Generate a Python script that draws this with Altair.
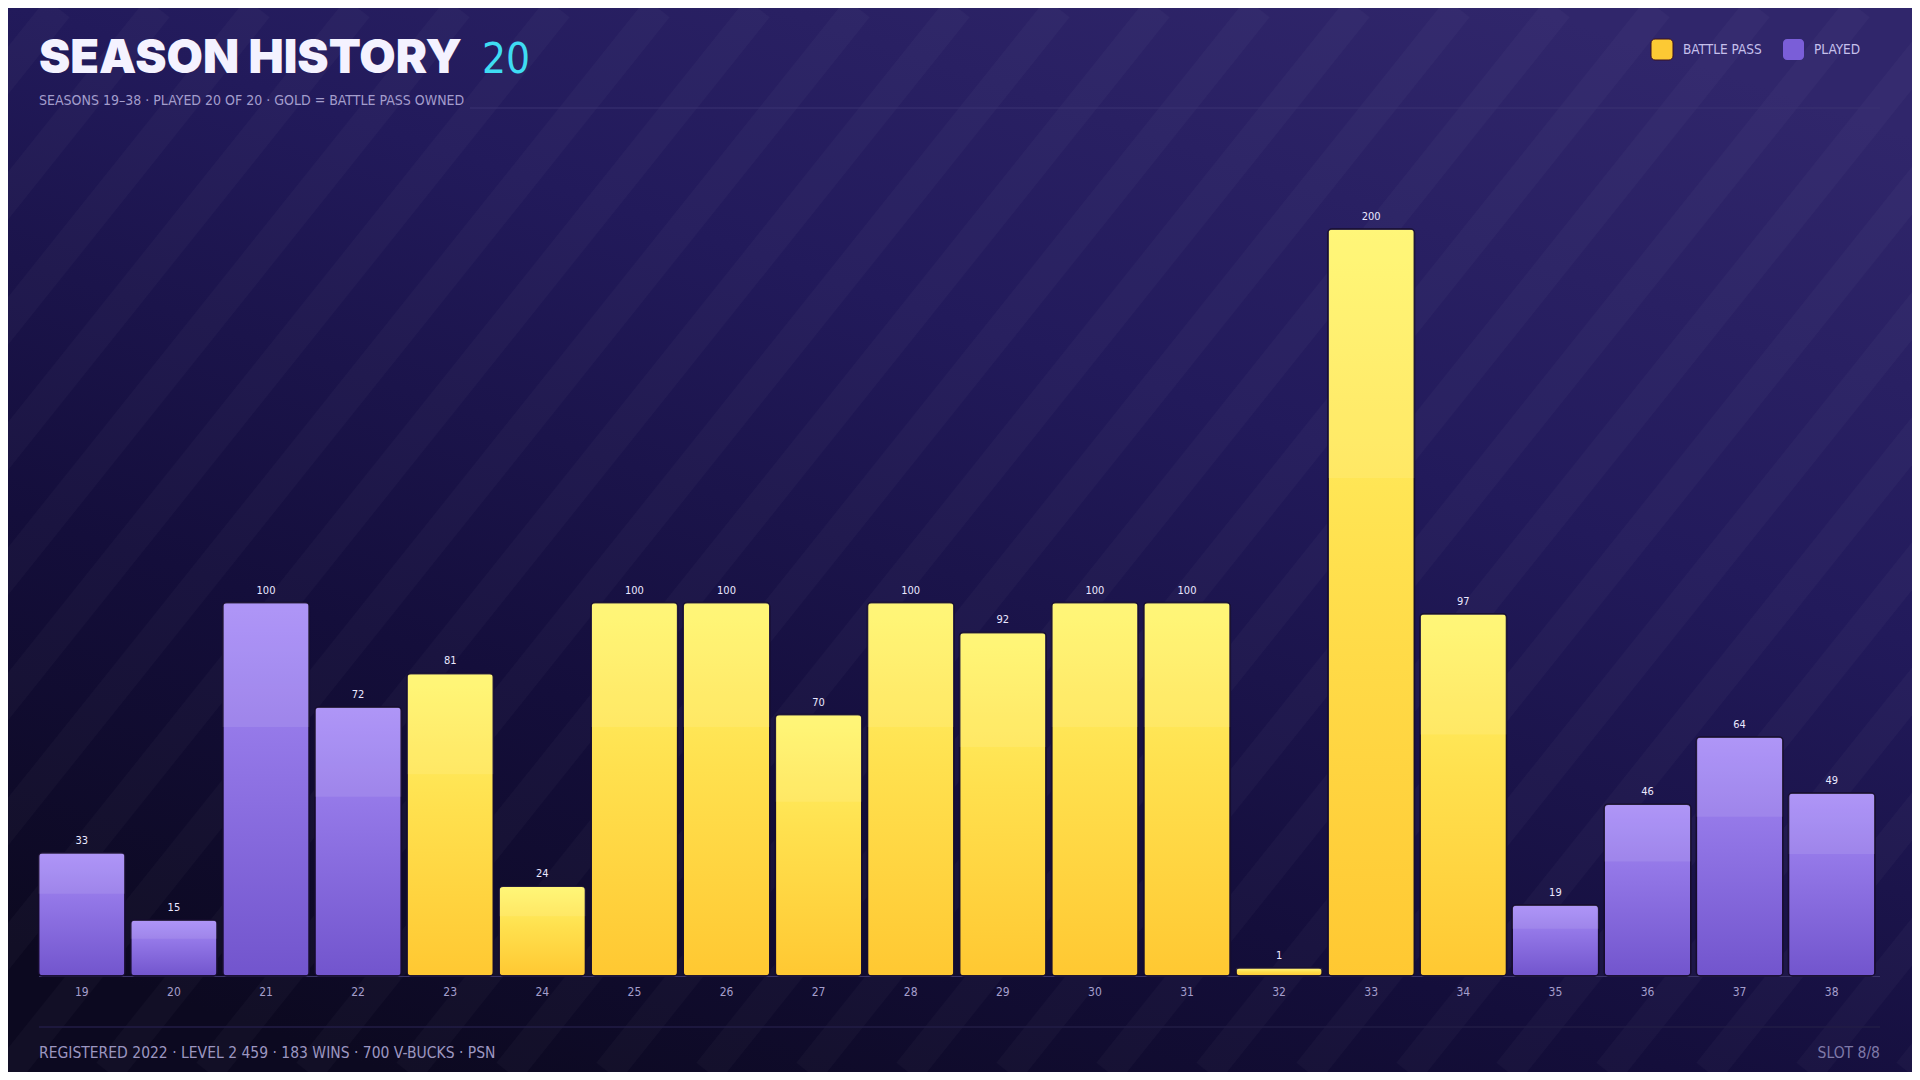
import altair as alt
import pandas as pd

# ---------------- data ----------------
seasons = ["19", "20", "21", "22", "23", "24", "25", "26", "27", "28",
           "29", "30", "31", "32", "33", "34", "35", "36", "37", "38"]
levels = [33, 15, 100, 72, 81, 24, 100, 100, 70, 100,
          92, 100, 100, 1, 200, 97, 19, 46, 64, 49]
battle_pass = [False, False, False, False, True, True, True, True, True, True,
               True, True, True, True, True, True, False, False, False, False]

title_text = "SEASON HISTORY"
title_count = "20"
subtitle_text = "SEASONS 19\u201338  \u00b7  PLAYED 20 OF 20  \u00b7  GOLD = BATTLE PASS OWNED"
footer_text = "REGISTERED 2022  \u00b7  LEVEL 2 459  \u00b7  183 WINS  \u00b7  700 V-BUCKS  \u00b7  PSN"
slot_text = "SLOT 8/8"
legend_labels = ["BATTLE PASS", "PLAYED"]

df = pd.DataFrame({"season": seasons, "value": levels, "bp": battle_pass})

# ---------------- style ----------------
W, H = 1904, 1064
COND = "DejaVu Sans Condensed, Liberation Sans Narrow, sans-serif"
HEAVY = "Inter, Lato, sans-serif"

xscale = alt.Scale(domain=seasons, range=[30.5, 1867], paddingInner=0.06, paddingOuter=0)
yscale = alt.Scale(domain=[0, 200], range=[968, 221], nice=False, zero=False)

one = alt.Data(values=[{"o": 1}])


def grad(stops, x1=0, y1=0, x2=0, y2=1):
    return alt.Gradient(gradient="linear", x1=x1, y1=y1, x2=x2, y2=y2,
                        stops=[alt.GradientStop(offset=o, color=c) for o, c in stops])


bg_grad = grad([(0, "#30266b"), (0.35, "#221a5b"), (0.7, "#140e3b"), (1, "#0c0920")],
               x1=0.8, y1=0, x2=0.2, y2=1)
gold_grad = grad([(0, "#fff66c"), (0.45, "#ffe04e"), (1, "#ffc832")])
purple_grad = grad([(0, "#a78cf7"), (1, "#7255cd")])


def txt(s, x, y, size, color, font=COND, weight="normal", align="left", baseline="middle"):
    return alt.Chart(one).mark_text(
        text=s, x=x, y=y, fontSize=size, color=color, font=font,
        fontWeight=weight, align=align, baseline=baseline
    )


def hline(x1, x2, y, color, width=1):
    return alt.Chart(one).mark_rule(color=color, strokeWidth=width).encode(
        x=alt.value(x1), x2=alt.value(x2), y=alt.value(y)
    )


background = alt.Chart(one).mark_rect(fill=bg_grad).encode(
    x=alt.value(0), x2=alt.value(W), y=alt.value(0), y2=alt.value(H)
)

stripes = (
    alt.Chart(alt.sequence(-10, 21, as_="k"))
    .transform_calculate(xa="datum.k * 100", xb="datum.k * 100 + 850")
    .mark_rule(stroke="white", strokeOpacity=0.026, strokeWidth=30)
    .encode(x=alt.X("xa:Q", scale=None), x2="xb:Q", y=alt.value(H), y2=alt.value(0))
)

X = alt.X("season:N", scale=xscale, axis=None)
Y = alt.Y("shown:Q", scale=yscale, axis=None)

base = alt.Chart(df).transform_calculate(shown="max(datum.value, 2.2)")

gold_bars = (
    base.transform_filter("datum.bp")
    .mark_bar(fill=gold_grad, stroke="#160d2e", strokeWidth=1.5, cornerRadius=4)
    .encode(x=X, y=Y)
)
purple_bars = (
    base.transform_filter("!datum.bp")
    .mark_bar(fill=purple_grad, stroke="#160d2e", strokeWidth=1.5, cornerRadius=4)
    .encode(x=X, y=Y)
)
highlight = (
    base.transform_calculate(lo="datum.shown * 2 / 3")
    .mark_bar(fill="white", fillOpacity=0.09, cornerRadiusTopLeft=4, cornerRadiusTopRight=4)
    .encode(x=X, y=Y, y2="lo:Q")
)
value_labels = (
    base.mark_text(dy=-12, baseline="middle", fontSize=11, color="#ebe8ff", font=COND)
    .encode(x=X, y=Y, text="value:Q")
)
tick_labels = (
    base.mark_text(y=984, baseline="middle", fontSize=12, color="#a49ecb", font=COND)
    .encode(x=X, text="season:N")
)

axis_line = hline(31, 1872, 968.5, "#3a3468", 1)
header_line = hline(462, 1872, 100, "#3b3373", 1)
footer_line = hline(31, 1872, 1019, "#221c46", 1.5)

legend_gold = alt.Chart(one).mark_rect(fill="#fcc934", stroke="#3a1020", strokeWidth=1, cornerRadius=4).encode(
    x=alt.value(1643), x2=alt.value(1665), y=alt.value(31), y2=alt.value(52))
legend_purple = alt.Chart(one).mark_rect(fill="#7a5ed8", cornerRadius=4).encode(
    x=alt.value(1775), x2=alt.value(1796), y=alt.value(31), y2=alt.value(52))

layers = [
    background, stripes,
    axis_line, header_line, footer_line,
    purple_bars, gold_bars, highlight, value_labels, tick_labels,
    txt(title_text, 31, 65, 47, "#f4f2ff", font=HEAVY, weight=900, baseline="alphabetic"),
    txt(title_count, 474, 65, 42, "#3fdcf3", baseline="alphabetic"),
    txt(subtitle_text, 31, 93, 14, "#a39dcc"),
    legend_gold, legend_purple,
    txt(legend_labels[0], 1675, 42, 13.5, "#c6c0ec"),
    txt(legend_labels[1], 1806, 42, 13.5, "#c6c0ec"),
    txt(footer_text, 31, 1045, 15.5, "#9c96c0"),
    txt(slot_text, 1872, 1045, 15.5, "#7f79a8", align="right"),
]

chart = alt.layer(*layers).properties(
    width=W, height=H, padding=0,
    autosize=alt.AutoSizeParams(type="none"),
).configure_view(stroke=None, strokeWidth=0).configure(background="#0c0920")

chart.save("out.html", embed_options={"renderer": "svg", "actions": False})
